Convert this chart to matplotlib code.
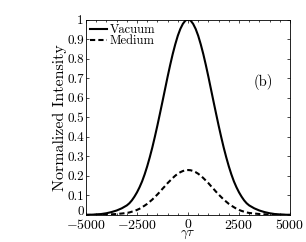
import numpy as np
import matplotlib.pyplot as plt

plt.rcParams['font.family'] = 'serif'
plt.rcParams['font.serif'] = ['cmr10', 'DejaVu Serif']
plt.rcParams['mathtext.fontset'] = 'cm'
plt.rcParams['axes.formatter.use_mathtext'] = True

# values
gt = [-5000, -4750, -4500, -4250, -4000, -3750, -3500, -3250, -3000, -2875, -2750, -2625,
      -2500, -2375, -2250, -2125, -2000, -1875, -1750, -1625, -1500, -1375, -1250, -1125,
      -1000, -875, -750, -625, -500, -375, -250, -125, 0,
      125, 250, 375, 500, 625, 750, 875, 1000, 1125, 1250, 1375, 1500,
      1625, 1750, 1875, 2000, 2125, 2250, 2375, 2500, 2625, 2750, 2875, 3000,
      3250, 3500, 3750, 4000, 4250, 4500, 4750, 5000]
vacuum = [0.001, 0.0015, 0.003, 0.005, 0.009, 0.015, 0.023, 0.034, 0.049, 0.06, 0.075, 0.094,
          0.116, 0.142, 0.172, 0.208, 0.249, 0.295, 0.345, 0.40, 0.458, 0.519, 0.581, 0.644,
          0.707, 0.767, 0.823, 0.873, 0.917, 0.952, 0.978, 0.995, 1.0,
          0.995, 0.978, 0.952, 0.917, 0.873, 0.823, 0.767, 0.707, 0.644, 0.581, 0.519, 0.458,
          0.40, 0.345, 0.295, 0.249, 0.208, 0.172, 0.142, 0.116, 0.094, 0.075, 0.06, 0.049,
          0.034, 0.023, 0.015, 0.009, 0.005, 0.003, 0.0015, 0.001]
medium = [0.0002, 0.0003, 0.0007, 0.001, 0.002, 0.0035, 0.005, 0.0075, 0.0105, 0.013, 0.017, 0.021,
          0.026, 0.032, 0.040, 0.048, 0.057, 0.068, 0.079, 0.092, 0.105, 0.119, 0.134, 0.148,
          0.163, 0.176, 0.189, 0.201, 0.211, 0.219, 0.225, 0.229, 0.23,
          0.229, 0.225, 0.219, 0.211, 0.201, 0.189, 0.176, 0.163, 0.148, 0.134, 0.119, 0.105,
          0.092, 0.079, 0.068, 0.057, 0.048, 0.040, 0.032, 0.026, 0.021, 0.017, 0.013, 0.0105,
          0.0075, 0.005, 0.0035, 0.002, 0.001, 0.0007, 0.0003, 0.0002]
xticks = [-5000, -2500, 0, 2500, 5000]
yticks = [0, 0.1, 0.2, 0.3, 0.4, 0.5, 0.6, 0.7, 0.8, 0.9, 1]
ylabels = ['0', '0.1', '0.2', '0.3', '0.4', '0.5', '0.6', '0.7', '0.8', '0.9', '1']

fig = plt.figure(figsize=(3.06, 2.42), dpi=100)
ax = fig.add_axes([86/306, 1-215/242, 204/306, 195.5/242])

ax.plot(gt, vacuum, 'k-', lw=1.5, label='Vacuum')
ax.plot(gt, medium, 'k--', lw=1.5, dashes=(2.5, 1.5), label='Medium')

ax.set_xlim(-5000, 5000)
ax.set_ylim(0, 1)
ax.set_xticks(xticks)
ax.set_xticklabels([r'$%d$' % t for t in xticks])
ax.set_yticks(yticks)
ax.set_yticklabels(ylabels)
ax.set_xticks(np.arange(-5000, 5001, 500), minor=True)
ax.tick_params(direction='in', top=True, right=True, length=2.5, width=0.5)
ax.tick_params(axis='x', pad=2, labelsize=10)
ax.tick_params(axis='y', pad=1.5, labelsize=9.5)
ax.tick_params(which='minor', direction='in', top=True, length=1.2, width=0.5)
for s in ax.spines.values():
    s.set_linewidth(0.6)
# the "0" on the y axis sits on the axis line, above the -5000
ax.get_yticklabels()[0].set_va('baseline')

ax.set_xlabel(r'$\gamma\tau$', fontsize=9.5, va='center')
ax.xaxis.set_label_coords(0.5, -0.1)
ax.set_ylabel('Normalized Intensity', fontsize=11.5, labelpad=0)
ax.text(3700, 0.68, '(b)', fontsize=10.5, ha='center', va='center')
ax.legend(loc='upper left', frameon=False, fontsize=9, handlelength=1.3,
          handletextpad=0.25, borderaxespad=0.1, labelspacing=-0.05, borderpad=0.25)

fig.savefig('out.png', dpi=100)
